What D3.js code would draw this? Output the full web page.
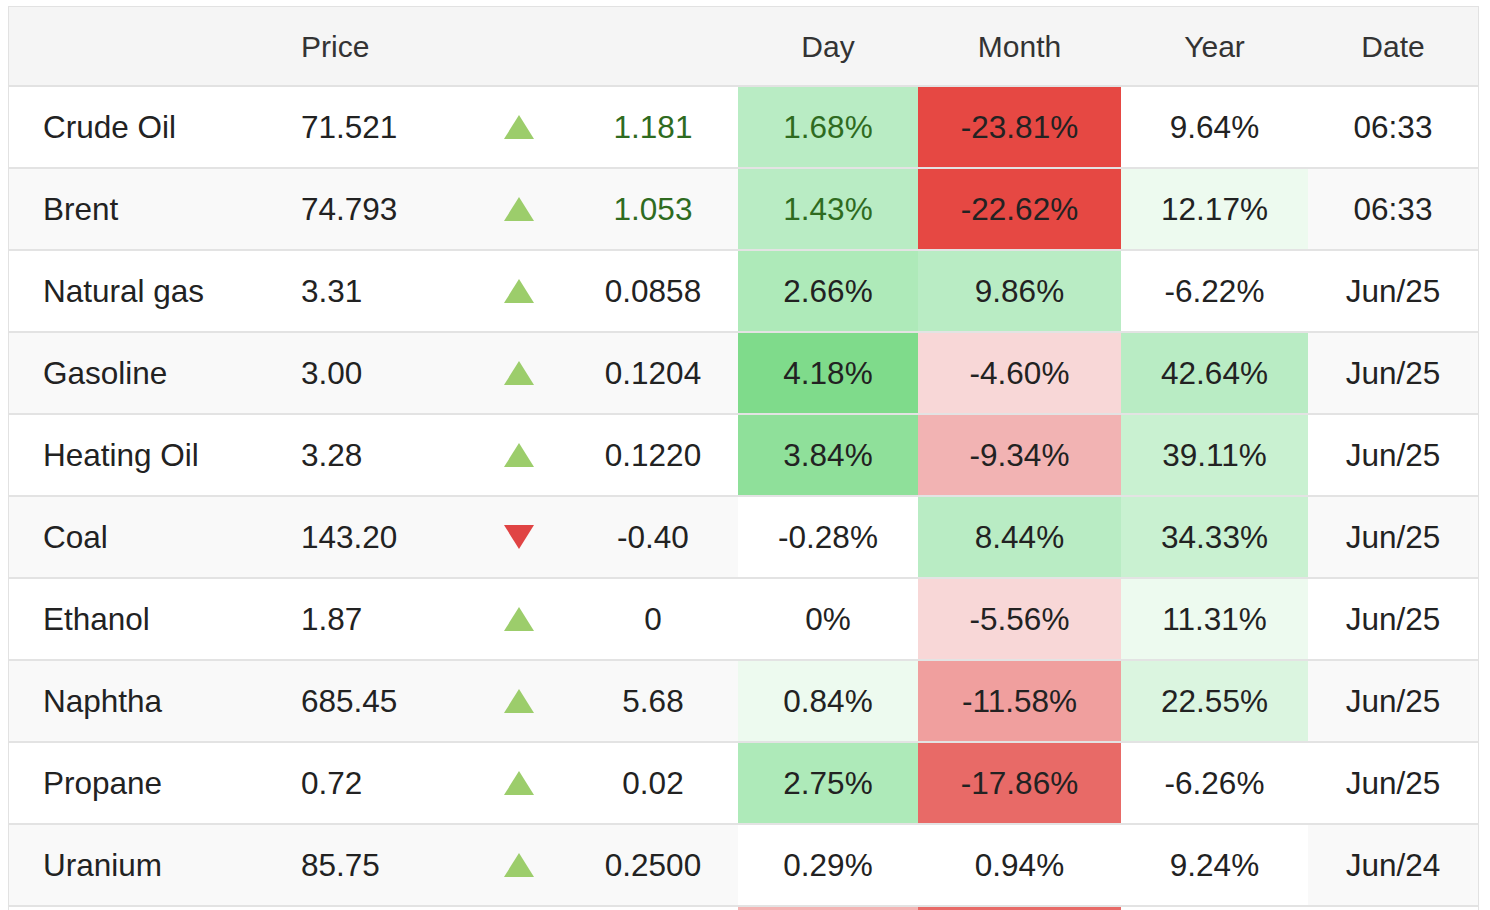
<!DOCTYPE html>
<html>
<head>
<meta charset="utf-8">
<script src="https://cdn.jsdelivr.net/npm/d3@7"></script>
<style>
    html, body { margin: 0; padding: 0; background: #fff; overflow: hidden; }
    svg { display: block; font-family: "Helvetica Neue", Helvetica, Arial, "Liberation Sans", sans-serif; }
</style>
</head>
<body>
<svg id="energyTable"></svg>
<script>
    // values (last row is only a sliver at the bottom edge, its cell values are estimates)
    const names = ['Crude Oil', 'Brent', 'Natural gas', 'Gasoline', 'Heating Oil', 'Coal', 'Ethanol', 'Naphtha', 'Propane', 'Uranium', 'Methanol'];
    const prices = ['71.521', '74.793', '3.31', '3.00', '3.28', '143.20', '1.87', '685.45', '0.72', '85.75', ''];
    const changes = ['1.181', '1.053', '0.0858', '0.1204', '0.1220', '-0.40', '0', '5.68', '0.02', '0.2500', ''];
    const dayPct = [1.68, 1.43, 2.66, 4.18, 3.84, -0.28, 0, 0.84, 2.75, 0.29, -2.5];
    const monthPct = [-23.81, -22.62, 9.86, -4.60, -9.34, 8.44, -5.56, -11.58, -17.86, 0.94, -17];
    const yearPct = [9.64, 12.17, -6.22, 42.64, 39.11, 34.33, 11.31, 22.55, -6.26, 9.24, 5];
    const dates = ['06:33', '06:33', 'Jun/25', 'Jun/25', 'Jun/25', 'Jun/25', 'Jun/25', 'Jun/25', 'Jun/25', 'Jun/24', ''];
    const headers = ['', 'Price', '', '', 'Day', 'Month', 'Year', 'Date'];

    (function () {
        'use strict';

        const width = 1490;
        const height = 910;
        const tableLeft = 9;
        const tableRight = 1478;
        const tableTop = 7;
        const headerHeight = 80;
        const rowHeight = 82;
        const border = 2;

        // column layout: anchor x, text-anchor, and cell edges for heat-coloured columns
        const cols = {
            name: { x: 43, anchor: 'start' },
            price: { x: 301, anchor: 'start' },
            arrow: { x: 519 },
            change: { x: 653, anchor: 'middle' },
            day: { x0: 738, x1: 918 },
            month: { x0: 918, x1: 1121 },
            year: { x0: 1121, x1: 1308 },
            date: { x0: 1308, x1: tableRight }
        };

        const dayColor = d3.scaleThreshold()
            .domain([-0.5, 0.5, 1, 2, 3, 4])
            .range(['#f3b4b4', '#ffffff', '#edfaef', '#b9ecc4', '#aeeab9', '#8fe09a', '#7fdb8b']);
        const monthColor = d3.scaleThreshold()
            .domain([-20, -15, -10, -7, -2, 2])
            .range(['#e64843', '#e86a67', '#f09f9e', '#f2b3b3', '#f8d7d7', '#ffffff', '#b9ecc4']);
        const yearColor = d3.scaleThreshold()
            .domain([10, 20, 30, 40])
            .range(['#ffffff', '#edfaef', '#dbf5e0', '#c9f1d1', '#b9ecc4']);

        const rows = names.map((name, i) => {
            return {
                name: name,
                price: prices[i],
                change: changes[i],
                day: dayPct[i],
                month: monthPct[i],
                year: yearPct[i],
                date: dates[i],
                live: dates[i].indexOf(':') > -1
            };
        });

        const yScale = d3.scaleBand()
            .domain(d3.range(rows.length))
            .range([tableTop + headerHeight, tableTop + headerHeight + rowHeight * rows.length]);

        const svg = d3.select('#energyTable')
            .attr('width', width)
            .attr('height', height);

        const pct = (v) => v === 0 ? '0%' : v.toFixed(2) + '%';
        const mid = (c) => (c.x0 + c.x1) / 2;

        (function init() {
            drawHeader();
            drawRows();
            drawFrame();
        })();

        function drawHeader() {
            svg.append('rect')
                .attr('x', tableLeft)
                .attr('y', tableTop)
                .attr('width', tableRight - tableLeft)
                .attr('height', headerHeight - border)
                .attr('fill', '#f5f5f5');

            const headerX = [cols.name, cols.price, null, null, cols.day, cols.month, cols.year, cols.date];
            svg.append('g')
                .attr('class', 'header')
                .selectAll('text')
                .data(headers.map((h, i) => ({ label: h, col: headerX[i] })).filter(d => d.label))
                .join('text')
                .attr('x', d => d.col.x !== undefined ? d.col.x : mid(d.col))
                .attr('y', tableTop + (headerHeight - border) / 2)
                .attr('dy', '0.36em')
                .attr('text-anchor', d => d.col.anchor || 'middle')
                .attr('font-size', 30)
                .attr('fill', '#333')
                .text(d => d.label);
        }

        function drawRows() {
            const cellH = yScale.bandwidth() - border;
            const textY = cellH / 2;

            const row = svg.append('g')
                .attr('class', 'rows')
                .selectAll('g')
                .data(rows)
                .join('g')
                .attr('transform', (d, i) => `translate(0, ${yScale(i)})`);

            row.append('rect')
                .attr('x', tableLeft)
                .attr('width', tableRight - tableLeft)
                .attr('height', cellH)
                .attr('fill', (d, i) => i % 2 ? '#f9f9f9' : '#ffffff');

            [['day', dayColor], ['month', monthColor], ['year', yearColor]].forEach(([key, scale]) => {
                row.append('rect')
                    .attr('x', cols[key].x0)
                    .attr('width', cols[key].x1 - cols[key].x0)
                    .attr('height', cellH)
                    .attr('fill', d => scale(d[key]));
            });

            row.append('rect')
                .attr('x', tableLeft)
                .attr('y', cellH)
                .attr('width', tableRight - tableLeft)
                .attr('height', border)
                .attr('fill', 'rgba(200, 200, 200, 0.5)');

            // only rows whose text sits inside the visible window get their labels
            const shown = row.filter((d, i) => yScale(i) + cellH < height);

            const addText = (x, anchor, fn, color) => {
                shown.append('text')
                    .attr('x', x)
                    .attr('y', textY)
                    .attr('dy', '0.36em')
                    .attr('text-anchor', anchor)
                    .attr('font-size', 31.5)
                    .attr('fill', color || '#222')
                    .text(fn);
            };

            addText(cols.name.x, 'start', d => d.name);
            addText(cols.price.x, 'start', d => d.price);
            addText(cols.change.x, 'middle', d => d.change, d => d.live && +d.change > 0 ? '#2f6b1f' : '#222');
            addText(mid(cols.day), 'middle', d => pct(d.day), d => d.live && d.day > 0 ? '#2f6b1f' : '#222');
            addText(mid(cols.month), 'middle', d => pct(d.month));
            addText(mid(cols.year), 'middle', d => pct(d.year));
            addText(mid(cols.date), 'middle', d => d.date);

            shown.filter(d => d.change !== '')
                .append('path')
                .attr('d', d => {
                    const p = d3.path();
                    const cx = cols.arrow.x;
                    const up = +d.change >= 0;
                    const tip = up ? textY - 12 : textY + 12;
                    const base = up ? textY + 12 : textY - 12;
                    p.moveTo(cx, tip);
                    p.lineTo(cx + 15, base);
                    p.lineTo(cx - 15, base);
                    p.closePath();
                    return p.toString();
                })
                .attr('fill', d => +d.change >= 0 ? '#9ccd6b' : '#e04444');
        }

        function drawFrame() {
            svg.append('rect')
                .attr('x', tableLeft - 0.5)
                .attr('y', tableTop - 0.5)
                .attr('width', tableRight - tableLeft + 1)
                .attr('height', height)
                .attr('fill', 'none')
                .attr('stroke', '#e2e2e2')
                .attr('stroke-width', 1);

            svg.append('rect')
                .attr('x', tableLeft)
                .attr('y', tableTop + headerHeight - border)
                .attr('width', tableRight - tableLeft)
                .attr('height', border)
                .attr('fill', '#e2e2e2');
        }
    })();
</script>
</body>
</html>
